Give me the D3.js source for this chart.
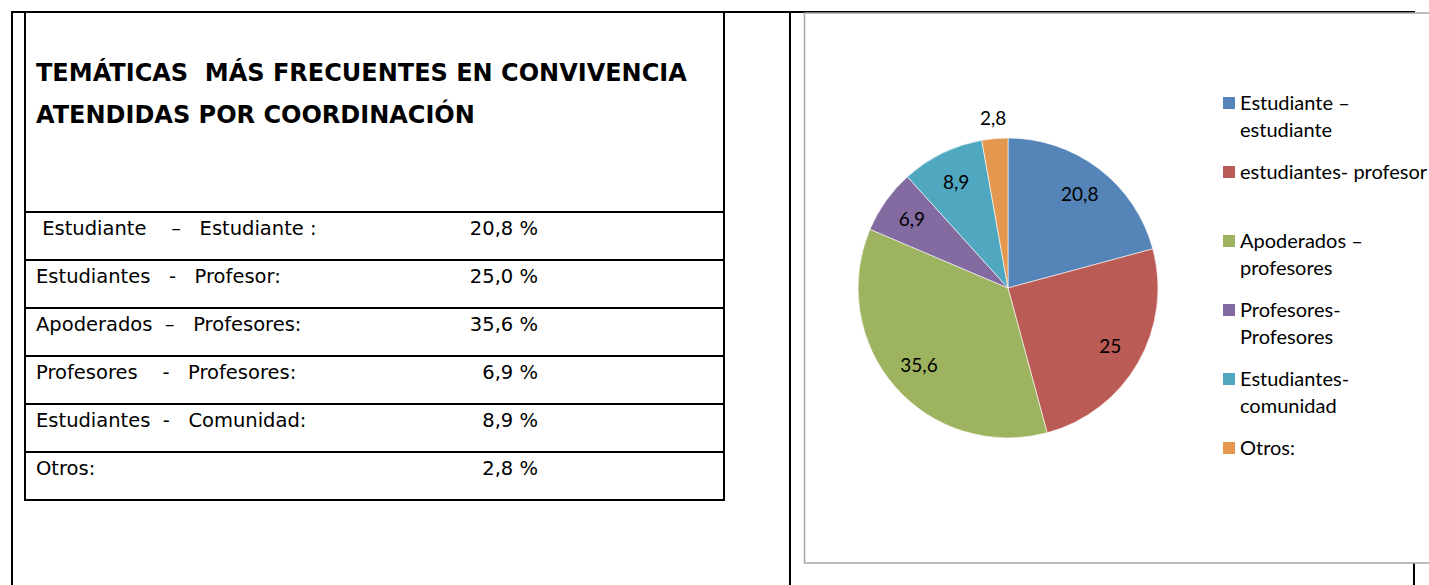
<!DOCTYPE html>
<html>
<head>
<meta charset="utf-8">
<script src="https://cdn.jsdelivr.net/npm/d3@7"></script>
<style>
  body { margin: 0; background: #fff; }
  text { white-space: pre; }
</style>
</head>
<body>
<div id="chart"></div>
<script>
// data
const titleLines = ["TEMÁTICAS  MÁS FRECUENTES EN CONVIVENCIA", "ATENDIDAS POR COORDINACIÓN"];
const tableLabels = [
  " Estudiante    –   Estudiante :",
  "Estudiantes   -   Profesor:",
  "Apoderados  –   Profesores:",
  "Profesores    -   Profesores:",
  "Estudiantes  -   Comunidad:",
  "Otros:"
];
const tableValues = [20.8, 25.0, 35.6, 6.9, 8.9, 2.8];
const sliceNames = [
  "Estudiante –\nestudiante",
  "estudiantes- profesor",
  "Apoderados –\nprofesores",
  "Profesores-\nProfesores",
  "Estudiantes-\ncomunidad",
  "Otros:"
];
const sliceValues = [20.8, 25, 35.6, 6.9, 8.9, 2.8];

const width = 1429, height = 585;
const colors = ["#5584b8", "#bb5b56", "#9db35f", "#836aa0", "#4fa8c0", "#e4974f"];
const fmt = v => d3.format(".1f")(v).replace(".", ",");
const fmtLabel = v => String(v).replace(".", ",");

const svg = d3.select("#chart").append("svg")
  .attr("width", width)
  .attr("height", height);

// outer layout cell lines
const lines = svg.append("g").attr("stroke", "#000").attr("stroke-width", 2);
lines.append("line").attr("x1", 11).attr("x2", 1415).attr("y1", 12).attr("y2", 12);
lines.append("line").attr("x1", 12).attr("x2", 12).attr("y1", 11).attr("y2", height);
lines.append("line").attr("x1", 790).attr("x2", 790).attr("y1", 11).attr("y2", height);
lines.append("line").attr("x1", 1414).attr("x2", 1414).attr("y1", 11).attr("y2", height);

// left table
const rowY = d3.scaleBand().domain(d3.range(tableLabels.length)).range([212, 500]);
const table = svg.append("g");
table.append("rect")
  .attr("x", 25).attr("y", 12).attr("width", 699).attr("height", 488)
  .attr("fill", "none").attr("stroke", "#000").attr("stroke-width", 2);
table.selectAll("line.row").data(tableLabels).enter().append("line")
  .attr("x1", 25).attr("x2", 724)
  .attr("y1", (d, i) => rowY(i)).attr("y2", (d, i) => rowY(i))
  .attr("stroke", "#000").attr("stroke-width", 2);

table.selectAll("text.title").data(titleLines).enter().append("text")
  .attr("x", 36)
  .attr("y", (d, i) => 81 + i * 42)
  .style("font-family", "DejaVu Sans, Verdana, sans-serif")
  .style("font-weight", "bold")
  .style("font-size", "24px")
  .attr("fill", "#000")
  .text(d => d);

table.selectAll("text.lbl").data(tableLabels).enter().append("text")
  .attr("x", 36)
  .attr("y", (d, i) => rowY(i) + 23)
  .style("font-family", "DejaVu Sans, Verdana, sans-serif")
  .style("font-size", "19.5px")
  .attr("fill", "#000")
  .text(d => d);

table.selectAll("text.val").data(tableValues).enter().append("text")
  .attr("x", 538)
  .attr("y", (d, i) => rowY(i) + 23)
  .attr("text-anchor", "end")
  .style("font-family", "DejaVu Sans, Verdana, sans-serif")
  .style("font-size", "19.5px")
  .attr("fill", "#000")
  .text(d => fmt(d) + " %");

// chart area
svg.append("rect")
  .attr("x", 804.5).attr("y", 13).attr("width", 700).attr("height", 550)
  .attr("fill", "#fff").attr("stroke", "#a6a6a6").attr("stroke-width", 1.5);

const cx = 1008, cy = 288, R = 150;
const pie = d3.pie().sort(null).value(d => d);
const arcs = pie(sliceValues);
const arcGen = d3.arc().innerRadius(0).outerRadius(R);
const inLabel = d3.arc().innerRadius(118).outerRadius(118);
const outLabel = d3.arc().innerRadius(170).outerRadius(170);

const pg = svg.append("g").attr("transform", `translate(${cx},${cy})`);
pg.selectAll("path").data(arcs).enter().append("path")
  .attr("d", arcGen)
  .attr("fill", (d, i) => colors[i])
  .attr("stroke", "#fff")
  .attr("stroke-width", 0.6);

pg.selectAll("text").data(arcs).enter().append("text")
  .attr("transform", d => {
    const [x, y] = (d.data < 5 ? outLabel : inLabel).centroid(d);
    return `translate(${x},${y})`;
  })
  .attr("text-anchor", "middle")
  .attr("dy", "0.35em")
  .style("font-family", "Lato, Carlito, sans-serif")
  .style("font-size", "19px")
  .attr("fill", "#000")
  .text(d => fmtLabel(d.data));

// legend
const legY = d3.scalePoint().domain(d3.range(sliceNames.length)).range([103, 448]);
const leg = svg.append("g");
const item = leg.selectAll("g").data(sliceNames).enter().append("g")
  .attr("transform", (d, i) => `translate(1223,${legY(i)})`);
item.append("rect")
  .attr("x", 0).attr("y", -6).attr("width", 12).attr("height", 12)
  .attr("fill", (d, i) => colors[i]);
item.append("text")
  .attr("x", 17)
  .style("font-family", "Lato, Carlito, sans-serif")
  .style("font-size", "20px")
  .attr("fill", "#000")
  .selectAll("tspan").data(d => d.split("\n")).enter().append("tspan")
  .attr("x", 17)
  .attr("y", (d, i) => 7 + i * 27)
  .text(d => d);
</script>
</body>
</html>
